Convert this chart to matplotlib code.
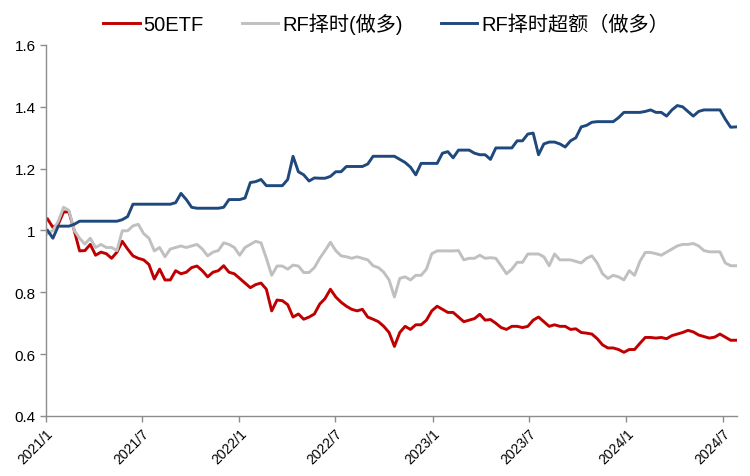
import matplotlib
matplotlib.use("Agg")
import matplotlib.pyplot as plt
import matplotlib.dates as mdates
import pandas as pd

plt.rcParams['font.family'] = ['Liberation Sans', 'Noto Sans CJK SC', 'DejaVu Sans']

start_date = '2021-01-04'
end_date = '2024-07-26'
n_points = 130

etf50 = [1.037, 1.01, 1.02, 1.06, 1.06, 1.0, 0.934, 0.935, 0.955, 0.92,
         0.93, 0.925, 0.91, 0.93, 0.965, 0.94, 0.918, 0.91, 0.905, 0.89,
         0.843, 0.875, 0.84, 0.84, 0.87, 0.86, 0.865, 0.88, 0.885, 0.87,
         0.85, 0.865, 0.87, 0.886, 0.865, 0.86, 0.845, 0.83, 0.815, 0.825,
         0.83, 0.81, 0.74, 0.775, 0.773, 0.76, 0.72, 0.73, 0.713, 0.72,
         0.73, 0.762, 0.78, 0.81, 0.785, 0.768, 0.755, 0.745, 0.74, 0.745,
         0.72, 0.713, 0.705, 0.69, 0.67, 0.625, 0.67, 0.69, 0.68, 0.695,
         0.695, 0.71, 0.74, 0.755, 0.745, 0.735, 0.735, 0.72, 0.705, 0.71,
         0.715, 0.729, 0.71, 0.712, 0.70, 0.686, 0.68, 0.69, 0.69, 0.686,
         0.69, 0.71, 0.72, 0.705, 0.69, 0.695, 0.69, 0.69, 0.68, 0.682,
         0.67, 0.668, 0.665, 0.65, 0.63, 0.62, 0.62, 0.615, 0.606, 0.615,
         0.615, 0.635, 0.654, 0.654, 0.652, 0.654, 0.65, 0.66, 0.665, 0.67,
         0.677, 0.672, 0.662, 0.657, 0.652, 0.655, 0.665, 0.655, 0.645, 0.645]

rf_long = [0.99, 1.0, 1.03, 1.075, 1.065, 1.0, 0.975, 0.956, 0.975, 0.945,
           0.955, 0.945, 0.945, 0.935, 0.999, 0.999, 1.015, 1.02, 0.99, 0.975,
           0.934, 0.945, 0.915, 0.94, 0.945, 0.95, 0.945, 0.95, 0.955, 0.94,
           0.918, 0.93, 0.935, 0.96, 0.955, 0.945, 0.92, 0.945, 0.955, 0.965,
           0.96, 0.91, 0.855, 0.885, 0.885, 0.875, 0.888, 0.885, 0.864, 0.864,
           0.88, 0.91, 0.935, 0.962, 0.935, 0.918, 0.915, 0.91, 0.915, 0.91,
           0.905, 0.886, 0.88, 0.865, 0.84, 0.785, 0.845, 0.85, 0.84, 0.855,
           0.855, 0.875, 0.925, 0.934, 0.934, 0.934, 0.934, 0.935, 0.905, 0.91,
           0.91, 0.92, 0.91, 0.912, 0.91, 0.886, 0.86, 0.875, 0.897, 0.897,
           0.924, 0.924, 0.924, 0.915, 0.886, 0.924, 0.905, 0.905, 0.905, 0.9,
           0.895, 0.91, 0.918, 0.895, 0.86, 0.845, 0.855, 0.85, 0.84, 0.87,
           0.855, 0.9, 0.929, 0.929, 0.925, 0.92, 0.93, 0.94, 0.95, 0.955,
           0.955, 0.958, 0.95, 0.935, 0.931, 0.931, 0.931, 0.895, 0.886, 0.886]

rf_excess = [1.0, 0.975, 1.014, 1.014, 1.014, 1.02, 1.03, 1.03, 1.03, 1.03,
             1.03, 1.03, 1.03, 1.03, 1.035, 1.045, 1.085, 1.085, 1.085, 1.085,
             1.085, 1.085, 1.085, 1.085, 1.09, 1.12, 1.10, 1.075, 1.072, 1.072,
             1.072, 1.072, 1.072, 1.075, 1.10, 1.10, 1.10, 1.105, 1.155, 1.158,
             1.165, 1.145, 1.145, 1.145, 1.145, 1.165, 1.24, 1.19, 1.18, 1.16,
             1.17, 1.169, 1.169, 1.175, 1.19, 1.19, 1.207, 1.207, 1.207, 1.207,
             1.215, 1.24, 1.24, 1.24, 1.24, 1.24, 1.23, 1.22, 1.205, 1.18,
             1.217, 1.217, 1.217, 1.217, 1.25, 1.255, 1.235, 1.26, 1.26, 1.26,
             1.25, 1.245, 1.245, 1.23, 1.267, 1.267, 1.267, 1.267, 1.29, 1.29,
             1.312, 1.315, 1.245, 1.28, 1.286, 1.286, 1.28, 1.27, 1.29, 1.30,
             1.335, 1.34, 1.35, 1.352, 1.352, 1.352, 1.352, 1.365, 1.382, 1.382,
             1.382, 1.382, 1.385, 1.39, 1.382, 1.382, 1.37, 1.39, 1.404, 1.40,
             1.385, 1.37, 1.385, 1.39, 1.39, 1.39, 1.39, 1.36, 1.334, 1.335]

series_labels = ['50ETF', 'RF择时(做多)', 'RF择时超额（做多）']
series_colors = ['#C00000', '#C0C0C0', '#1F497D']

y_ticks = [0.4, 0.6, 0.8, 1.0, 1.2, 1.4, 1.6]
y_tick_labels = ['0.4', '0.6', '0.8', '1', '1.2', '1.4', '1.6']
x_tick_dates = ['2021-01-01', '2021-07-01', '2022-01-01', '2022-07-01',
                '2023-01-01', '2023-07-01', '2024-01-01', '2024-07-01']
x_tick_labels = ['2021/1', '2021/7', '2022/1', '2022/7',
                 '2023/1', '2023/7', '2024/1', '2024/7']

dates = pd.date_range(start_date, end_date, periods=n_points)

fig = plt.figure(figsize=(7.5, 4.77), dpi=100)
ax = fig.add_axes([0.0613, 0.1258, 0.9214, 0.7778])

for vals, lab, col in zip([etf50, rf_long, rf_excess], series_labels, series_colors):
    ax.plot(dates, vals, color=col, lw=2.1, label=lab, solid_joinstyle='round')

ax.set_ylim(0.4, 1.6)
ax.set_yticks(y_ticks)
ax.set_yticklabels(y_tick_labels, fontsize=11)
ax.set_xlim(pd.Timestamp('2021-01-01'), pd.Timestamp('2024-07-28'))
ax.set_xticks(pd.to_datetime(x_tick_dates))
ax.set_xticklabels(x_tick_labels, rotation=45, ha='right', rotation_mode='anchor', fontsize=10)

for s in ['top', 'right']:
    ax.spines[s].set_visible(False)
for s in ['left', 'bottom']:
    ax.spines[s].set_color('#8C8C8C')
    ax.spines[s].set_linewidth(1.0)
ax.tick_params(axis='both', direction='out', length=4, color='#8C8C8C', width=1.0)
ax.tick_params(axis='x', pad=3)

leg = fig.legend(loc='upper center', bbox_to_anchor=(0.515, 1.01), ncol=3, frameon=False,
                 fontsize=14.5, handlelength=1.8, columnspacing=1.9, handletextpad=0.2)

fig.savefig('out.png', dpi=100)
